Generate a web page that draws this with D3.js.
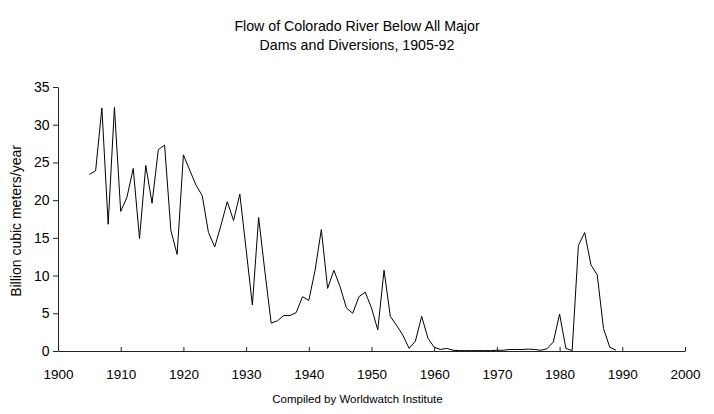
<!DOCTYPE html>
<html>
<head>
<meta charset="utf-8">
<script src="https://cdn.jsdelivr.net/npm/d3@7"></script>
<style>
  body { margin: 0; background: #fff; }
  svg { display: block; font-family: "Liberation Sans", Arial, sans-serif; }
</style>
</head>
<body>
<div id="chart"></div>
<script>
// flow, billion cubic meters per year (line stops at 1989)
const years = d3.range(1905, 1990)
const flow = [
  23.4, 23.9, 32.2, 16.8, 32.3, 18.5, 20.4, 24.2, 14.9, 24.6,   // 1905-14
  19.6, 26.7, 27.3, 16.0, 12.8, 26.0, 24.0, 22.0, 20.6, 15.7,   // 1915-24
  13.8, 16.7, 19.8, 17.3, 20.8, 13.5, 6.1, 17.7, 10.5, 3.7,     // 1925-34
  4.0, 4.7, 4.7, 5.1, 7.2, 6.7, 10.7, 16.1, 8.3, 10.7,          // 1935-44
  8.5, 5.7, 5.0, 7.2, 7.8, 5.7, 2.8, 10.7, 4.6, 3.4,            // 1945-54
  2.1, 0.35, 1.3, 4.6, 1.7, 0.5, 0.2, 0.35, 0.1, 0.05,          // 1955-64
  0.05, 0.05, 0.05, 0.05, 0.05, 0.1, 0.1, 0.2, 0.2, 0.2,        // 1965-74
  0.25, 0.2, 0.1, 0.3, 1.2, 4.9, 0.35, 0.05, 14.0, 15.7,        // 1975-84
  11.4, 10.1, 3.0, 0.5, 0.1                                     // 1985-89
]
const xTicks = d3.range(1900, 2001, 10)
const yTicks = d3.range(0, 36, 5)

const title = ["Flow of Colorado River Below All Major", "Dams and Diversions, 1905-92"]
const yLabel = "Billion cubic meters/year"
const footer = "Compiled by Worldwatch Institute"

const width = 714
const height = 414

const svg = d3.select("#chart")
  .append("svg")
  .attr("width", width)
  .attr("height", height)

const x = d3.scaleLinear()
  .domain([1900, 2000])
  .range([58, 685])

const y = d3.scaleLinear()
  .domain([0, 35])
  .range([351, 87])

// title, two lines centred on the page
svg.append("g")
  .attr("font-size", "14.2px")
  .attr("text-anchor", "middle")
  .selectAll("text")
  .data(title)
  .join("text")
    .attr("x", 357)
    .attr("y", (d, i) => 30.5 + i * 19.5)
    .text(d => d)

// axes
const xAxis = svg.append("g")
  .attr("transform", `translate(0,${y(0)})`)
  .call(d3.axisBottom(x).tickValues(xTicks).tickFormat(d3.format("d"))
    .tickSize(-4).tickSizeOuter(0).tickPadding(18))

const yAxis = svg.append("g")
  .attr("transform", `translate(${x(1900)},0)`)
  .call(d3.axisLeft(y).tickValues(yTicks).tickSize(5).tickSizeOuter(0).tickPadding(3.5))

svg.selectAll(".domain, .tick line").attr("stroke", "#222")
xAxis.selectAll("text").attr("font-size", "13.5px").attr("font-family", "Liberation Sans, Arial, sans-serif").attr("fill", "#000")
yAxis.selectAll("text").attr("font-size", "14px").attr("font-family", "Liberation Sans, Arial, sans-serif").attr("fill", "#000")

// the flow line
const line = d3.line()
  .x((d, i) => x(years[i]))
  .y(d => y(d))

svg.append("path")
  .datum(flow)
  .attr("fill", "none")
  .attr("stroke", "#000")
  .attr("stroke-width", 1)
  .attr("d", line)

// y axis label
svg.append("text")
  .attr("transform", "translate(21,221) rotate(-90)")
  .attr("text-anchor", "middle")
  .attr("font-size", "14px")
  .text(yLabel)

svg.append("text")
  .attr("x", 357.5)
  .attr("y", 402.5)
  .attr("text-anchor", "middle")
  .attr("font-size", "11.5px")
  .text(footer)
</script>
</body>
</html>
